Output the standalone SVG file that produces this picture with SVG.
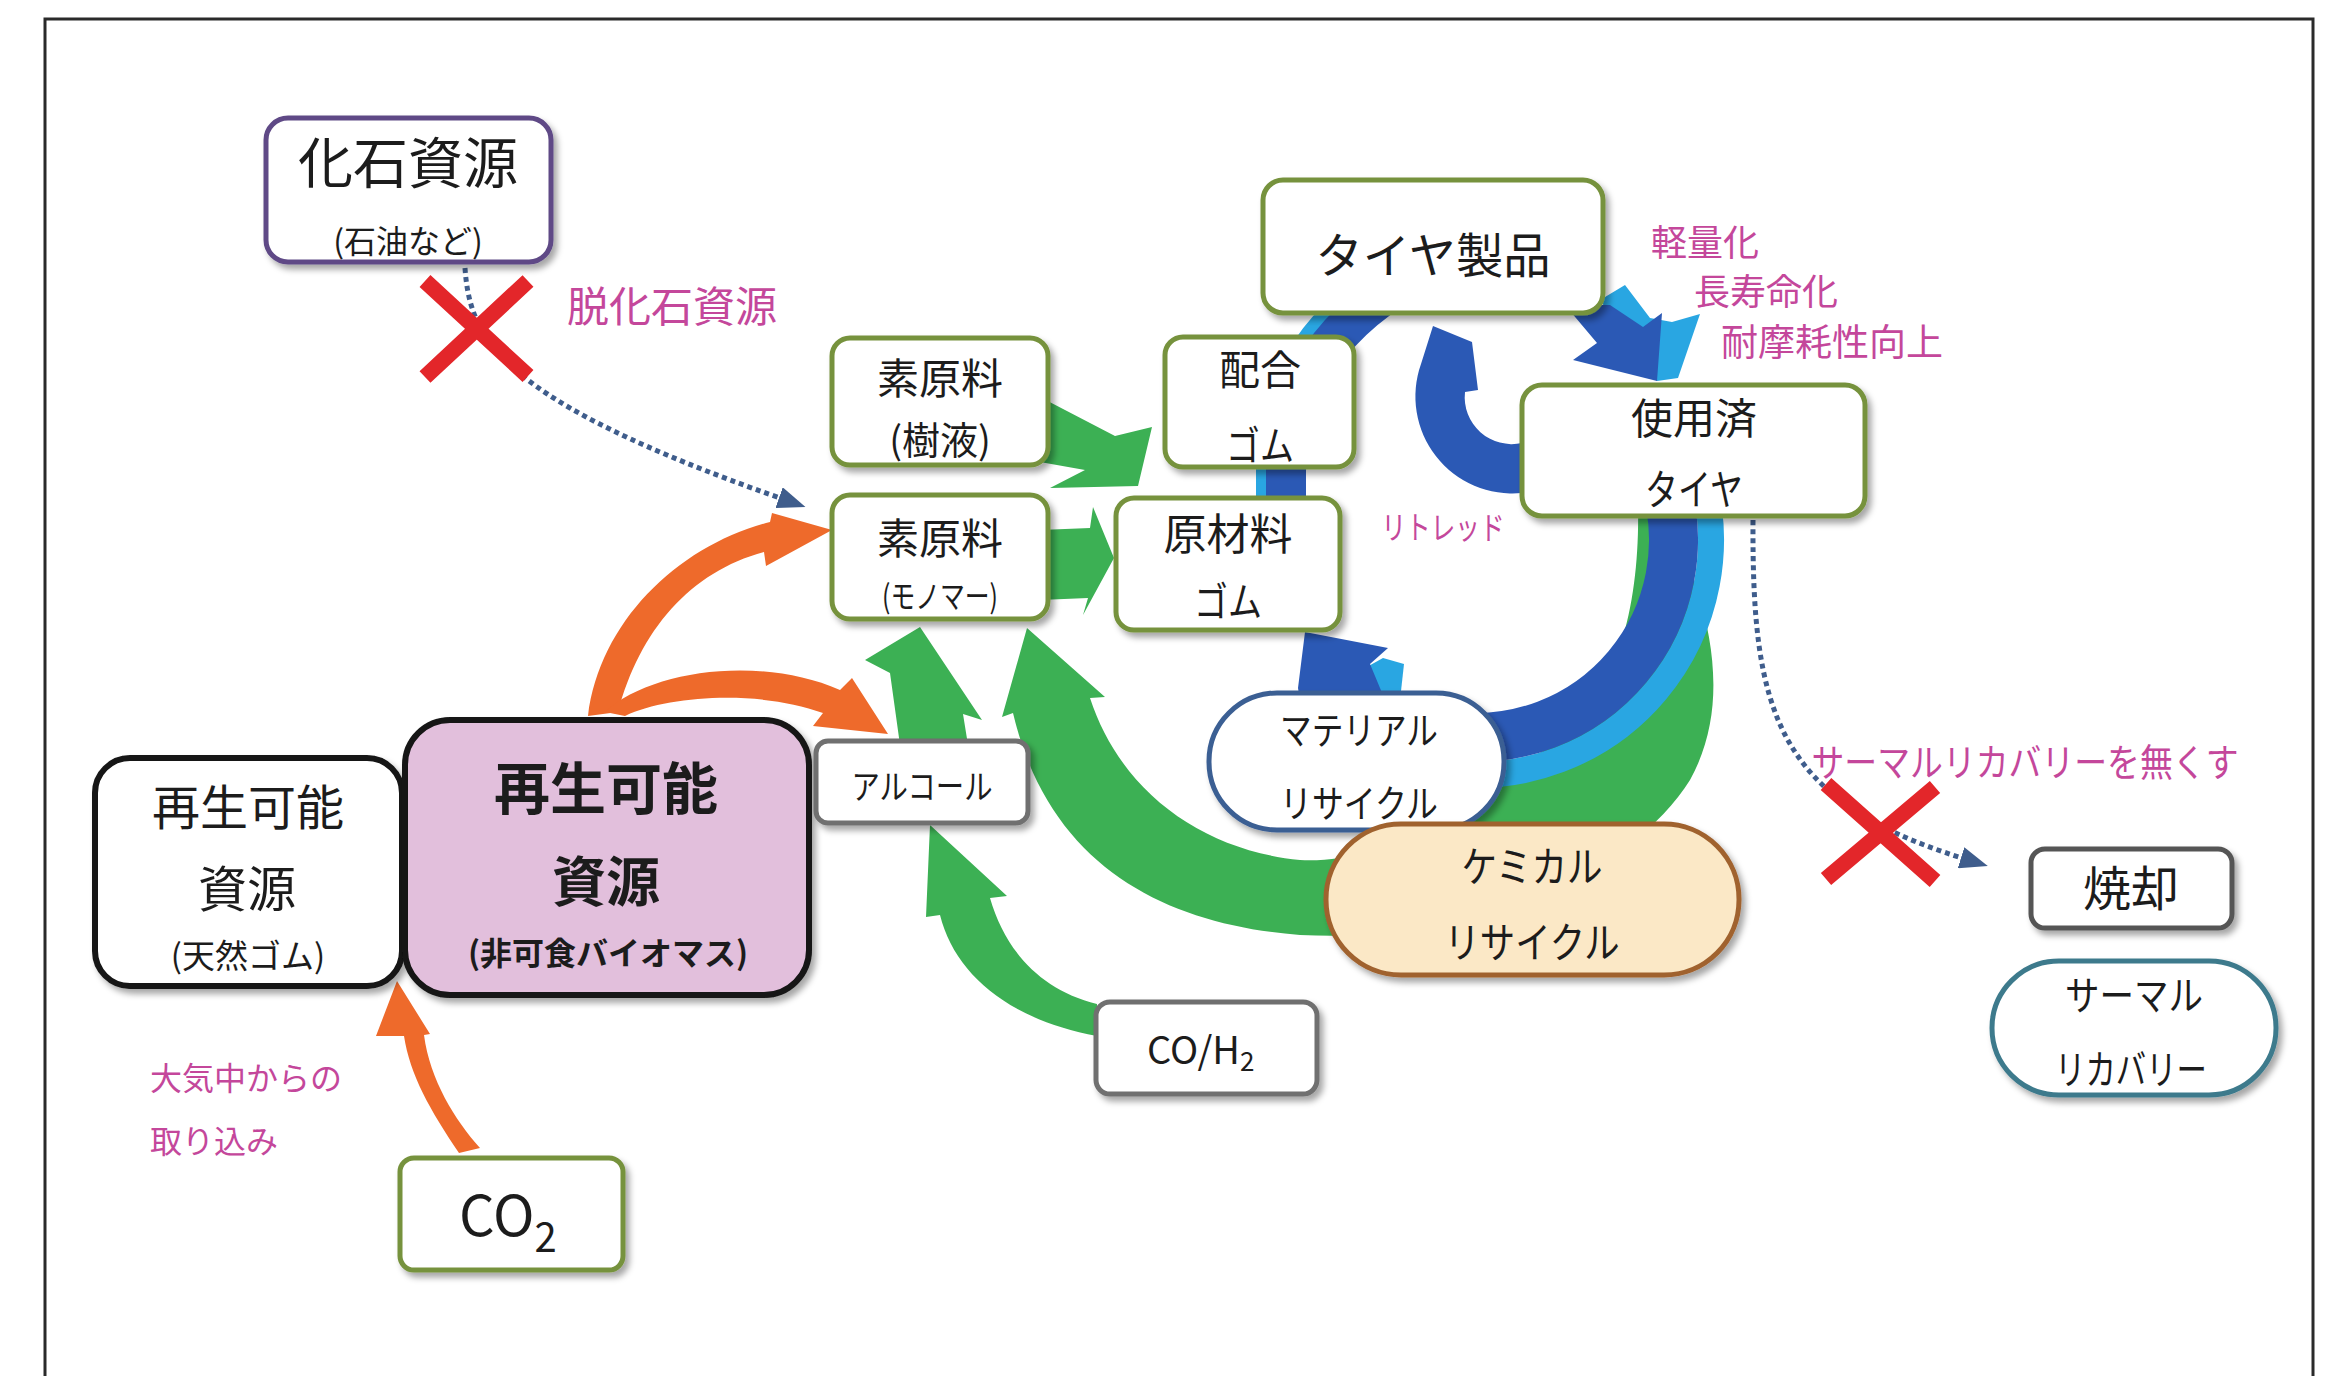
<svg xmlns="http://www.w3.org/2000/svg" width="2336" height="1376" viewBox="0 0 2336 1376">
<defs>
<style>
text{font-family:"Noto Sans CJK JP","Noto Sans",sans-serif}
.t{fill:#1c1c1c;text-anchor:middle}
.s{text-anchor:start}
.b{font-weight:700}
.pk{fill:#c4479b}
.olive{fill:#fff;stroke:#76923c;stroke-width:5;filter:url(#sh)}
.gray{fill:#fff;stroke:#6f6f6f;stroke-width:5;filter:url(#sh)}
.blk{stroke:#141414;stroke-width:6;filter:url(#sh)}
.dot{fill:none;stroke:#3f5d8c;stroke-width:5;stroke-dasharray:5 4;marker-end:url(#dh)}
.x{stroke:#e3262a;stroke-width:16;fill:none}
.gr{fill:#3cb054}
.or{fill:#ee6a2b}
.db{fill:#2b59b5}
.lb{fill:#29a6e2}
.dbs{fill:none;stroke:#2b59b5}
.lbs{fill:none;stroke:#29a6e2}
</style>
<filter id="sh" x="-10%" y="-10%" width="130%" height="140%"><feDropShadow dx="4" dy="5" stdDeviation="3" flood-color="#000" flood-opacity="0.35"/></filter>
<marker id="dh" viewBox="0 0 28 22" refX="1" refY="11" markerWidth="28" markerHeight="22" markerUnits="userSpaceOnUse" orient="auto"><path d="M0 0 L28 11 L0 22 Z" fill="#3f5d8c"/></marker>
</defs>
<rect x="0" y="0" width="2336" height="1376" fill="#fff"/>
<rect x="45" y="19" width="2268" height="1420" fill="none" stroke="#2a2a2a" stroke-width="3"/>

<g id="connectors">
  <!-- green chemical recycle arrow (used tyre -> monomer) -->
  <path class="gr" d="M 1013 713 L 1002 717 L 1027 628 L 1105 697 L 1090 698 C 1120 790 1200 850 1300 860 C 1400 865 1480 790 1560 740 C 1620 690 1640 600 1638 505 L 1662 505 C 1700 580 1740 690 1690 780 C 1640 860 1500 945 1300 935 C 1170 925 1050 870 1013 713 Z"/>
  <!-- blue ring -->
  <path class="lbs" stroke-width="26" d="M 1703 479.2 A 235 235 0 0 1 1455.5 774.1"/>
  <path class="dbs" stroke-width="49" d="M 1666.8 488.9 A 197.5 197.5 0 0 1 1458.8 736.7"/>
  <path class="lbs" stroke-width="40" transform="translate(-10,-6)" d="M 1286 530 L 1286 470 C 1290 385 1330 320 1425 270"/>
  <path class="dbs" stroke-width="40" d="M 1286 530 L 1286 470 C 1290 385 1330 320 1425 270"/>
  <polygon class="lb" points="1600,300 1625,285 1650,318 1672,322 1700,314 1678,378 1657,381"/>
  <polygon class="db" points="1565,305 1597,343 1573,360 1657,381 1662,313 1643,327 1610,305"/>
  <polygon class="lb" points="1350,700 1365,668 1383,658 1404,664 1400,700"/>
  <polygon class="db" points="1300,700 1298,688 1305,632 1388,648 1370,664 1385,700"/>
  <!-- retread -->
  <path class="db" d="M 1522 493 A 97 97 0 0 1 1421 364 L 1433 326 L 1472 342 L 1478 390 L 1465 392 A 47 47 0 0 0 1522 443 Z"/>
  <!-- green small arrows -->
  <polygon class="gr" points="1040,397 1115,436 1152,427 1138,486 1050,488 1085,470 1040,462"/>
  <polygon class="gr" points="1040,530 1090,528 1093,507 1114,558 1083,615 1088,598 1040,600"/>
  <polygon class="gr" points="900,745 890,673 865,660 920,627 982,720 963,714 968,745"/>
  <path class="gr" d="M 930 825 L 1007 896 L 990 898 C 1005 950 1040 990 1097 1004 L 1097 1036 C 1010 1020 955 975 940 915 L 926 917 Z"/>
  <!-- orange arrows -->
  <path class="or" d="M 588 716 C 600 620 680 545 770 522 L 772 513 L 832 530 L 766 566 L 764 552 C 690 572 640 630 618 712 Z"/>
  <path class="or" d="M 605 712 C 650 670 760 655 840 690 L 852 678 L 888 734 L 813 726 L 823 713 C 760 690 670 695 625 716 Z"/>
  <path class="or" d="M 459 1153 C 430 1110 410 1075 404 1036 L 376 1036 L 397 981 L 430 1034 L 424 1035 C 430 1080 455 1120 480 1148 Z"/>
  <!-- dotted -->
  <path class="dot" d="M 465 268 C 470 340 500 400 780 498"/>
  <path class="dot" d="M 1753 520 C 1752 710 1775 800 1962 858"/>
</g>

<g id="marks">
  <path class="x" d="M 425 281 L 528 376 M 528 281 L 425 377"/>
  <path class="x" d="M 1826 784 L 1935 881 M 1935 787 L 1826 879"/>
</g>

<g id="n-kaseki">
  <rect x="266" y="118" width="285" height="144" rx="22" fill="#fff" stroke="#5e4a86" stroke-width="5" filter="url(#sh)"/>
  <text class="t" x="408" y="183" font-size="55">化石資源</text>
  <text class="t" x="408" y="253" font-size="32">(石油など)</text>
</g>
<g id="n-jueki">
  <rect class="olive" x="832" y="338" width="216" height="127" rx="18"/>
  <text class="t" x="940" y="394" font-size="42">素原料</text>
  <text class="t" x="940" y="454" font-size="38">(樹液)</text>
</g>
<g id="n-monomer">
  <rect class="olive" x="832" y="495" width="216" height="124" rx="18"/>
  <text class="t" x="940" y="554" font-size="42">素原料</text>
  <text class="t" x="940" y="608" font-size="32" textLength="116" lengthAdjust="spacingAndGlyphs">(モノマー)</text>
</g>
<g id="n-haigo">
  <rect class="olive" x="1165" y="337" width="189" height="130" rx="18"/>
  <text class="t" x="1260" y="385" font-size="41">配合</text>
  <text class="t" x="1260" y="460" font-size="40" textLength="68" lengthAdjust="spacingAndGlyphs">ゴム</text>
</g>
<g id="n-genzairyo">
  <rect class="olive" x="1116" y="498" width="224" height="132" rx="18"/>
  <text class="t" x="1228" y="550" font-size="43">原材料</text>
  <text class="t" x="1228" y="616" font-size="40" textLength="68" lengthAdjust="spacingAndGlyphs">ゴム</text>
</g>
<g id="n-tire">
  <rect class="olive" x="1263" y="180" width="340" height="133" rx="20"/>
  <text class="t" x="1433" y="273" font-size="48" textLength="235" lengthAdjust="spacingAndGlyphs">タイヤ製品</text>
</g>
<g id="n-used">
  <rect class="olive" x="1522" y="385" width="343" height="131" rx="20"/>
  <text class="t" x="1694" y="434" font-size="42">使用済</text>
  <text class="t" x="1694" y="505" font-size="42" textLength="98" lengthAdjust="spacingAndGlyphs">タイヤ</text>
</g>
<g id="n-natural">
  <rect class="blk" x="95" y="758" width="307" height="228" rx="35" fill="#fff"/>
  <text class="t" x="248" y="825" font-size="48">再生可能</text>
  <text class="t" x="247" y="907" font-size="49">資源</text>
  <text class="t" x="248" y="968" font-size="33">(天然ゴム)</text>
</g>
<g id="n-bio">
  <rect class="blk" x="405" y="720" width="404" height="275" rx="45" fill="#e2bfdc"/>
  <text class="t b" x="606" y="809" font-size="56">再生可能</text>
  <text class="t b" x="606" y="902" font-size="54">資源</text>
  <text class="t b" x="608" y="965" font-size="32">(非可食バイオマス)</text>
</g>
<g id="n-alcohol">
  <rect class="gray" x="816" y="741" width="212" height="82" rx="12"/>
  <text class="t" x="922" y="799" font-size="34" textLength="141" lengthAdjust="spacingAndGlyphs">アルコール</text>
</g>
<g id="n-coh2">
  <rect class="gray" x="1096" y="1002" width="221" height="92" rx="14"/>
  <text class="t s" x="1147" y="1064" font-size="38">CO/H<tspan font-size="26" dy="7">2</tspan></text>
</g>
<g id="n-co2">
  <rect class="olive" x="400" y="1158" width="223" height="112" rx="14"/>
  <text class="t s" x="459" y="1236" font-size="56">CO<tspan font-size="40" dy="16">2</tspan></text>
</g>
<g id="n-material">
  <rect x="1209" y="693" width="295" height="137" rx="68" fill="#fff" stroke="#3b5e93" stroke-width="5" filter="url(#sh)"/>
  <text class="t" x="1359" y="744" font-size="38" textLength="158" lengthAdjust="spacingAndGlyphs">マテリアル</text>
  <text class="t" x="1359" y="817" font-size="38" textLength="158" lengthAdjust="spacingAndGlyphs">リサイクル</text>
</g>
<g id="n-chemical">
  <rect x="1326" y="824" width="413" height="151" rx="75" fill="#fbe8c6" stroke="#a0622f" stroke-width="5" filter="url(#sh)"/>
  <text class="t" x="1532" y="882" font-size="42" textLength="141" lengthAdjust="spacingAndGlyphs">ケミカル</text>
  <text class="t" x="1532" y="958" font-size="42" textLength="175" lengthAdjust="spacingAndGlyphs">リサイクル</text>
</g>
<g id="n-shokyaku">
  <rect x="2031" y="849" width="201" height="79" rx="14" fill="#fff" stroke="#555" stroke-width="5" filter="url(#sh)"/>
  <text class="t" x="2131" y="906" font-size="48">焼却</text>
</g>
<g id="n-thermal">
  <rect x="1992" y="961" width="284" height="134" rx="67" fill="#fff" stroke="#3d7a8c" stroke-width="5" filter="url(#sh)"/>
  <text class="t" x="2134" y="1010" font-size="40" textLength="138" lengthAdjust="spacingAndGlyphs">サーマル</text>
  <text class="t" x="2131" y="1084" font-size="40" textLength="152" lengthAdjust="spacingAndGlyphs">リカバリー</text>
</g>

<g id="labels">
  <text class="t pk" x="672" y="322" font-size="42">脱化石資源</text>
  <text class="t pk" x="1705" y="256" font-size="36">軽量化</text>
  <text class="t pk" x="1766" y="305" font-size="36">長寿命化</text>
  <text class="t pk" x="1832" y="356" font-size="37">耐摩耗性向上</text>
  <text class="t pk" x="1443" y="539" font-size="32" textLength="123" lengthAdjust="spacingAndGlyphs">リトレッド</text>
  <text class="t pk" x="2025" y="776" font-size="38" textLength="427" lengthAdjust="spacingAndGlyphs">サーマルリカバリーを無くす</text>
  <text class="t s pk" x="150" y="1090" font-size="32">大気中からの</text>
  <text class="t s pk" x="150" y="1153" font-size="32">取り込み</text>
</g>
</svg>
